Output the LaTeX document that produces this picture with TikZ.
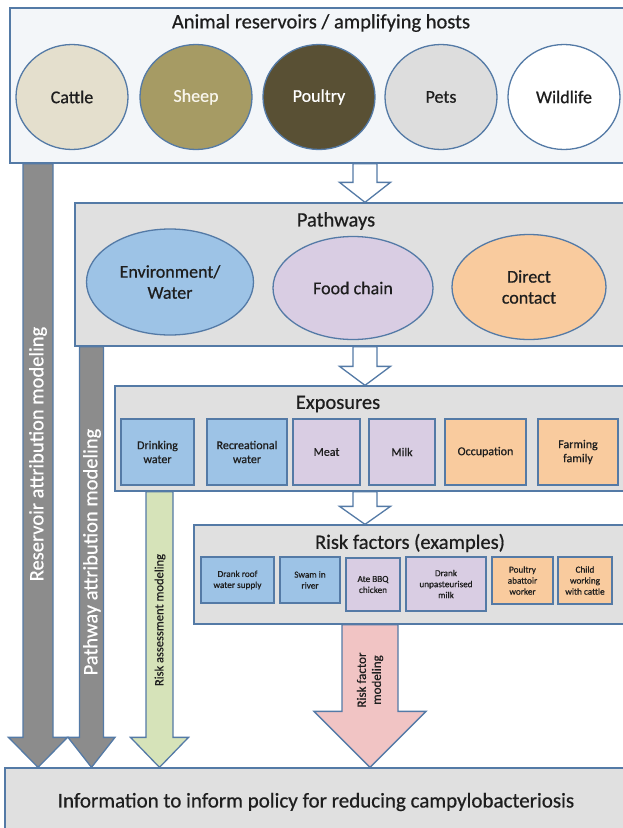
\documentclass[tikz,border=0pt]{standalone}
\usepackage{fontspec}
\setmainfont{Carlito}[FakeBold=0.6]
\usetikzlibrary{shapes.geometric,calc}
\definecolor{edgeblue}{RGB}{84,122,166}
\definecolor{hostbg}{RGB}{243,246,249}
\definecolor{panelgray}{RGB}{224,224,224}
\definecolor{cattlecol}{RGB}{228,223,205}
\definecolor{sheepcol}{RGB}{166,155,100}
\definecolor{sheeptext}{RGB}{248,245,235}
\definecolor{poultrycol}{RGB}{89,80,52}
\definecolor{petscol}{RGB}{221,221,221}
\definecolor{envblue}{RGB}{157,195,230}
\definecolor{foodlilac}{RGB}{217,205,227}
\definecolor{contactpeach}{RGB}{249,203,158}
\definecolor{modgray}{RGB}{140,140,140}
\definecolor{assessgreen}{RGB}{214,227,185}
\definecolor{factorpink}{RGB}{241,196,196}
\definecolor{inkcol}{RGB}{30,30,30}

% block arrow: style, from, to, shaft half width, head half width, head length
\newcommand{\blockarrow}[6]{%
  \draw[#1] let \p1=(#2), \p2=(#3) in
    (\x1-#4,\y1) -- (\x1-#4,\y2+#6) -- (\x1-#5,\y2+#6) -- (\x1,\y2)
    -- (\x1+#5,\y2+#6) -- (\x1+#4,\y2+#6) -- (\x1+#4,\y1) -- cycle;}

\begin{document}
\begin{tikzpicture}[x=1pt, y=-1pt,
  every node/.style={text=inkcol},
  panel/.style={draw=edgeblue, line width=1.3pt, rectangle, inner sep=0pt},
  title/.style={font=\fontsize{20.5}{24}\selectfont},
  host/.style={ellipse, draw=edgeblue, line width=1.3pt, minimum width=112pt,
    minimum height=105pt, inner sep=0pt, font=\fontsize{18}{21}\selectfont},
  pathway/.style={ellipse, draw=edgeblue, line width=1.3pt, inner sep=0pt,
    align=center, font=\fontsize{18}{21}\selectfont},
  expo/.style={draw=edgeblue, line width=1.3pt, rectangle, minimum height=66pt,
    inner sep=0pt, align=center, font=\fontsize{12}{14}\selectfont},
  riskbox/.style={draw=edgeblue, line width=1.3pt, rectangle, inner sep=0pt,
    align=center, font=\fontsize{9.2}{11}\selectfont},
  hollow/.style={draw=edgeblue, line width=1.3pt, fill=white},
  modarrow/.style={draw=edgeblue, line width=1.3pt},
  modtext/.style={rotate=90, align=center}]

\useasboundingbox (0,0) rectangle (623,828);
\clip (0,0) rectangle (623,828);

% animal reservoirs
\node[panel, fill=hostbg, minimum width=620pt, minimum height=155pt] (hosts) at (320,85.5) {};
\node[title] (hoststitle) at (321,23) {Animal reservoirs / amplifying hosts};
\node[host, fill=cattlecol] (cattle) at (72,97) {Cattle};
\node[host, fill=sheepcol, text=sheeptext] (sheep) at (196,97) {Sheep};
\node[host, fill=poultrycol, text=white] (poultry) at (319,97) {Poultry};
\node[host, fill=petscol] (pets) at (441,97) {Pets};
\node[host, fill=white] (wildlife) at (564,97) {Wildlife};

% pathways
\node[panel, fill=panelgray, minimum width=555pt, minimum height=143pt] (pathways) at (352.5,274.5) {};
\node[title] (pathwaystitle) at (336,221) {Pathways};
\node[pathway, fill=envblue, minimum width=167pt, minimum height=106pt] (env) at (170,282) {Environment/\\Water};
\node[pathway, fill=foodlilac, minimum width=160pt, minimum height=103pt] (food) at (353,288) {Food chain};
\node[pathway, fill=contactpeach, minimum width=154pt, minimum height=105pt] (contact) at (529,287) {Direct\\contact};

% exposures
\node[panel, fill=panelgray, minimum width=515pt, minimum height=105pt] (exposures) at (372.5,438.5) {};
\node[title] (exposurestitle) at (338,404) {Exposures};
\node[expo, fill=envblue, minimum width=73pt] (drinking) at (157.5,452) {Drinking\\water};
\node[expo, fill=envblue, minimum width=80pt] (recreational) at (247,452) {Recreational\\water};
\node[expo, fill=foodlilac, minimum width=67pt] (meat) at (326.5,452) {Meat};
\node[expo, fill=foodlilac, minimum width=66pt] (milk) at (402,452) {Milk};
\node[expo, fill=contactpeach, minimum width=81pt] (occupation) at (485.5,452) {Occupation};
\node[expo, fill=contactpeach, minimum width=80pt] (farming) at (578,452) {Farming\\family};

% risk factors
\node[panel, fill=panelgray, minimum width=436pt, minimum height=99pt] (risk) at (412,574.5) {};
\node[title] (risktitle) at (410,543) {Risk factors (examples)};
\node[riskbox, fill=envblue, minimum width=73pt, minimum height=46pt] (roof) at (237.5,580) {Drank roof\\water supply};
\node[riskbox, fill=envblue, minimum width=60pt, minimum height=46pt] (swam) at (310,580) {Swam in\\river};
\node[riskbox, fill=foodlilac, minimum width=54pt, minimum height=53pt] (bbq) at (373,584.5) {Ate BBQ\\chicken};
\node[riskbox, fill=foodlilac, minimum width=80pt, minimum height=54pt] (unpasteurised) at (446,584) {Drank\\unpasteurised\\milk};
\node[riskbox, fill=contactpeach, minimum width=61pt, minimum height=47pt] (abattoir) at (522.5,580.5) {Poultry\\abattoir\\worker};
\node[riskbox, fill=contactpeach, minimum width=54pt, minimum height=47pt] (child) at (585,580.5) {Child\\working\\with cattle};

% policy
\node[panel, fill=panelgray, minimum width=625pt, minimum height=67pt] (info) at (317.5,801.5) {};
\node[font=\fontsize{21}{25}\selectfont] (infotext) at (316,802) {Information to inform policy for reducing campylobacteriosis};

% arrows
\coordinate (flowx) at (365,0);
\coordinate (resx) at (38,0);
\coordinate (pathx) at (91.5,0);
\coordinate (assessx) at (159.5,0);
\coordinate (factorx) at (370,0);

\blockarrow{hollow}{flowx |- hosts.south}{flowx |- pathways.north}{12pt}{25.5pt}{20pt}
\blockarrow{hollow}{flowx |- pathways.south}{flowx |- exposures.north}{12pt}{25.5pt}{19pt}
\blockarrow{hollow}{flowx |- exposures.south}{flowx |- risk.north}{12pt}{25.5pt}{18pt}

\blockarrow{modarrow, fill=modgray}{resx |- hosts.south}{resx |- info.north}{15pt}{29.5pt}{30pt}
\blockarrow{modarrow, fill=modgray}{pathx |- pathways.south}{pathx |- info.north}{12pt}{23.5pt}{30pt}
\blockarrow{modarrow, fill=assessgreen}{assessx |- exposures.south}{assessx |- info.north}{13.5pt}{29pt}{30pt}
\blockarrow{modarrow, fill=factorpink}{factorx |- risk.south}{factorx |- info.north}{28pt}{56pt}{56pt}

\node[modtext, text=white, font=\fontsize{20.5}{24}\selectfont] (restext) at (38,454) {Reservoir attribution modeling};
\node[modtext, text=white, font=\fontsize{20.5}{24}\selectfont] (pathtext) at (92,552) {Pathway attribution modeling};
\node[modtext, font=\fontsize{12.5}{15}\selectfont] (assesstext) at (160,620) {Risk assessment modeling};
\node[modtext, font=\fontsize{13}{15}\selectfont] (factortext) at (370,680) {Risk factor\\modeling};

\end{tikzpicture}
\end{document}
